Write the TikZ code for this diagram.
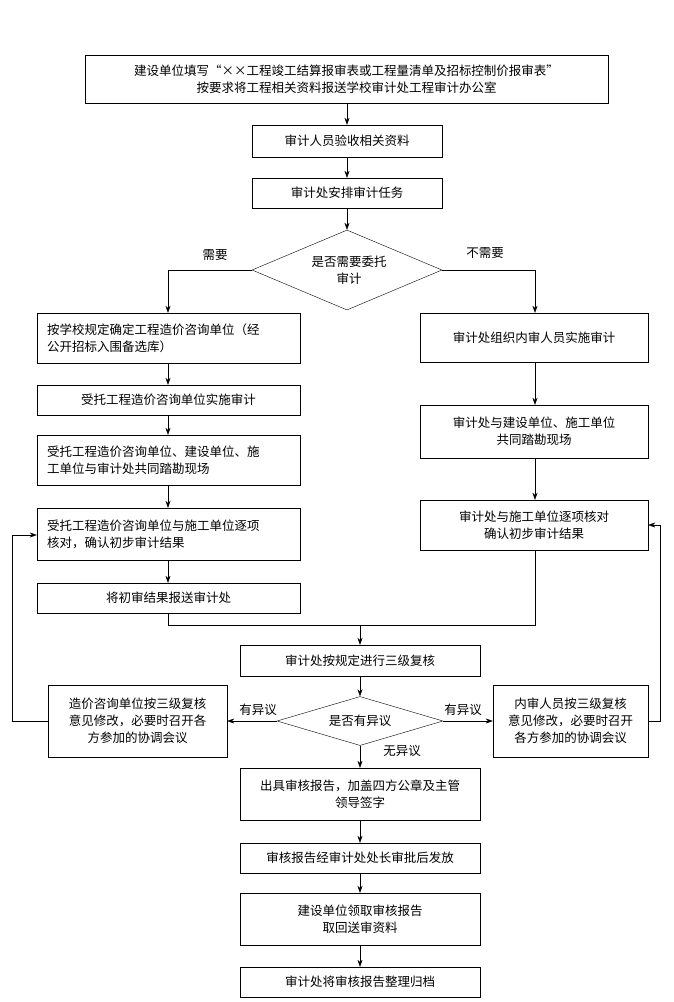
\documentclass[tikz,border=0pt]{standalone}
\usepackage{fontspec}
\newfontfamily\cjk{Noto Sans CJK SC}
\usetikzlibrary{shapes.geometric,arrows.meta}
\begin{document}
\begin{tikzpicture}[x=1pt,y=-1pt,
  every node/.style={font=\cjk\fontsize{12.5}{17}\selectfont,inner sep=2pt,align=center},
  bx/.style={draw,thin,minimum width=#1},
  arr/.style={draw,thin,-{Stealth[length=7pt,width=5pt]}},
  ln/.style={draw,thin}]
\useasboundingbox (0,0) rectangle (673,1002);
\fill[white] (0,0) rectangle (673,1002);
\newcommand\bb[6]{\node[bx=#4-#2,minimum height=#5-#3,#6] (#1) at ({(#2+#4)/2},{(#3+#5)/2}) {};}
\bb{a}{85}{55}{608}{103}{}
\node at (a) {建设单位填写“××工程竣工结算报审表或工程量清单及招标控制价报审表”\\按要求将工程相关资料报送学校审计处工程审计办公室};
\bb{b}{252}{125}{442}{157}{} \node at (b) {审计人员验收相关资料};
\bb{c}{252}{178}{442}{208}{} \node at (c) {审计处安排审计任务};
\node[draw,thin,diamond,aspect=2.4,minimum width=190,minimum height=80,inner sep=0] (d) at (347,270) {};
\node at (349,270) {是否需要委托\\审计};
\node at (215,255) {需要};
\node at (485,253) {不需要};
\bb{l1}{37}{313}{300}{363}{} \node[align=left,anchor=west] at (45,338) {按学校规定确定工程造价咨询单位（经\\公开招标入围备选库）};
\bb{l2}{37}{385}{300}{415}{} \node at (l2) {受托工程造价咨询单位实施审计};
\bb{l3}{37}{435}{300}{485}{} \node[align=left,anchor=west] at (45,460) {受托工程造价咨询单位、建设单位、施\\工单位与审计处共同踏勘现场};
\bb{l4}{37}{508}{300}{560}{} \node[align=left,anchor=west] at (45,534) {受托工程造价咨询单位与施工单位逐项\\核对，确认初步审计结果};
\bb{l5}{37}{583}{300}{613}{} \node at (l5) {将初审结果报送审计处};
\bb{r1}{420}{313}{648}{362}{} \node at (r1) {审计处组织内审人员实施审计};
\bb{r2}{420}{405}{648}{458}{} \node at (r2) {审计处与建设单位、施工单位\\共同踏勘现场};
\bb{r3}{420}{500}{648}{550}{} \node at (r3) {审计处与施工单位逐项核对\\确认初步审计结果};
\bb{m}{240}{645}{480}{676}{} \node at (m) {审计处按规定进行三级复核};
\node[draw,thin,diamond,aspect=3.4,minimum width=166,minimum height=49,inner sep=0] (e) at (360,721) {};
\node at (e) {是否有异议};
\bb{el}{48}{685}{227}{757}{} \node at (el) {造价咨询单位按三级复核\\意见修改，必要时召开各\\方参加的协调会议};
\bb{er}{493}{685}{648}{757}{} \node at (er) {内审人员按三级复核\\意见修改，必要时召开\\各方参加的协调会议};
\node at (258,710) {有异议};
\node at (463,710) {有异议};
\node at (402,751) {无异议};
\bb{f1}{240}{768}{480}{820}{} \node at (f1) {出具审核报告，加盖四方公章及主管\\领导签字};
\bb{f2}{240}{843}{480}{873}{} \node at (f2) {审核报告经审计处处长审批后发放};
\bb{f3}{240}{893}{480}{945}{} \node at (f3) {建设单位领取审核报告\\取回送审资料};
\bb{f4}{240}{967}{480}{997}{} \node at (f4) {审计处将审核报告整理归档};
% connectors
\path[arr] (a.south-|b) -- (b.north);
\path[arr] (b) -- (c);
\path[arr] (c) -- (d.north);
\path[arr] (d.west) -| (l1.north-|168,0);
\path[arr] (d.east) -| (r1.north-|535,0);
\path[arr] (l1.south-|168,0) -- (l2.north-|168,0);
\path[arr] (l2.south-|168,0) -- (l3.north-|168,0);
\path[arr] (l3.south-|168,0) -- (l4.north-|168,0);
\path[arr] (l4.south-|168,0) -- (l5.north-|168,0);
\path[arr] (r1.south-|535,0) -- (r2.north-|535,0);
\path[arr] (r2.south-|535,0) -- (r3.north-|535,0);
\coordinate (jl) at (168,625); \coordinate (jr) at (535,625); \coordinate (jm) at (360,625);
\path[ln] (l5.south-|168,0) -- (jl) -- (jm);
\path[ln] (r3.south-|535,0) -- (jr) -- (jm);
\path[arr] (jm) -- (m.north-|jm);
\path[arr] (m.south-|jm) -- (e.north);
\path[arr] (e.west) -- (el.east|-e.west);
\path[arr] (e.east) -- (er.west|-e.east);
\path[arr] (e.south) -- (f1.north-|e.south);
\path[arr] (f1.south-|jm) -- (f2.north-|jm);
\path[arr] (f2.south-|jm) -- (f3.north-|jm);
\path[arr] (f3.south-|jm) -- (f4.north-|jm);
\coordinate (fl1) at (12,721); \coordinate (fl2) at (12,535);
\path[arr] (el.west|-fl1) -- (fl1) -- (fl2) -- (l4.west|-fl2);
\coordinate (fr1) at (660,721); \coordinate (fr2) at (660,525);
\path[arr] (er.east|-fr1) -- (fr1) -- (fr2) -- (r3.east|-fr2);
\end{tikzpicture}
\end{document}
